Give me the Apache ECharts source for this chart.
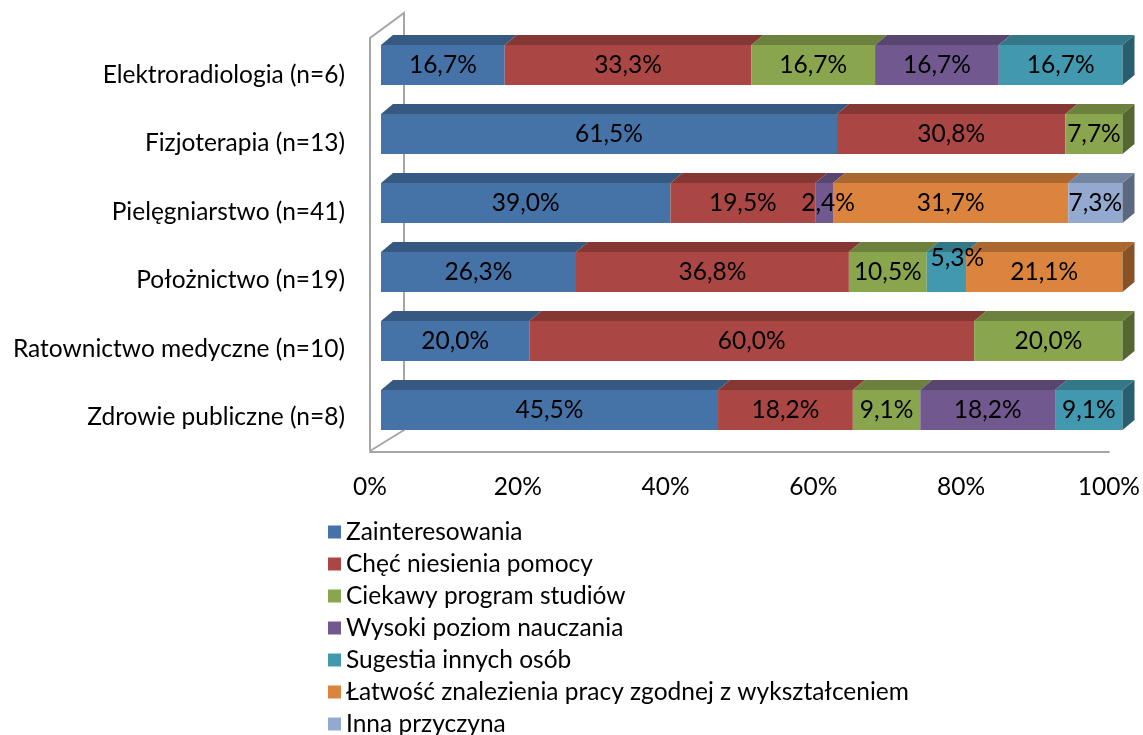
<!DOCTYPE html>
<html>
<head>
<meta charset="utf-8">
<script src="https://cdn.jsdelivr.net/npm/echarts@6/dist/echarts.min.js"></script>
<style>
  html, body { margin: 0; padding: 0; background: #fff; }
  #chart { width: 1143px; height: 735px; }
</style>
</head>
<body>
<div id="chart"></div>
<script>
const categories = [
  'Elektroradiologia (n=6)',
  'Fizjoterapia (n=13)',
  'Pielęgniarstwo (n=41)',
  'Położnictwo (n=19)',
  'Ratownictwo medyczne (n=10)',
  'Zdrowie publiczne (n=8)'
]
const seriesNames = [
  'Zainteresowania',
  'Chęć niesienia pomocy',
  'Ciekawy program studiów',
  'Wysoki poziom nauczania',
  'Sugestia innych osób',
  'Łatwość znalezienia pracy zgodnej z wykształceniem',
  'Inna przyczyna'
]
const zainteresowania = [16.7, 61.5, 39.0, 26.3, 20.0, 45.5]
const checPomocy = [33.3, 30.8, 19.5, 36.8, 60.0, 18.2]
const ciekawyProgram = [16.7, 7.7, 0, 10.5, 20.0, 9.1]
const wysokiPoziom = [16.7, 0, 2.4, 0, 0, 18.2]
const sugestia = [16.7, 0, 0, 5.3, 0, 9.1]
const latwoscPracy = [0, 0, 31.7, 21.1, 0, 0]
const innaPrzyczyna = [0, 0, 7.3, 0, 0, 0]
const xTickLabels = ['0%', '20%', '40%', '60%', '80%', '100%']

const values = [zainteresowania, checPomocy, ciekawyProgram, wysokiPoziom, sugestia, latwoscPracy, innaPrzyczyna]
const colors = ['#4572A7', '#AA4643', '#89A54E', '#71588F', '#4198AF', '#DB843D', '#93A9CF']
const font = 'Lato'
const fs = 24.5

function shade(hex, k) {
  let n = parseInt(hex.slice(1), 16)
  let r = Math.round(((n >> 16) & 255) * k)
  let g = Math.round(((n >> 8) & 255) * k)
  let b = Math.round((n & 255) * k)
  return 'rgb(' + r + ',' + g + ',' + b + ')'
}

// row totals, so every bar fills exactly 100%
let totals = categories.map((c, i) => values.reduce((s, arr) => s + arr[i], 0))
let lastIdx = categories.map((c, i) => {
  let last = 0
  values.forEach((arr, s) => { if (arr[i] > 0) last = s })
  return last
})

// label nudges for the narrow segments, key = series-category (px)
const labelShift = { '4-3': [11, -14], '3-2': [4, 0] }

const DX = 12, DY = -10

function renderBar(params, api) {
  let cat = api.value(0)
  let start = api.value(1)
  let end = api.value(2)
  let s = api.value(3)
  let isLast = api.value(4)
  let shown = api.value(5)
  let p0 = api.coord([start, cat])
  let p1 = api.coord([end, cat])
  let h = api.size([0, 1])[1] * 0.58
  let x0 = p0[0], x1 = p1[0]
  let yt = p0[1] - h / 2, yb = p0[1] + h / 2
  let c = colors[s]
  let children = [
    {
      type: 'polygon',
      shape: { points: [[x0, yt], [x1, yt], [x1 + DX, yt + DY], [x0 + DX, yt + DY]] },
      style: { fill: shade(c, 0.78) }
    },
    {
      type: 'rect',
      shape: { x: x0, y: yt, width: x1 - x0, height: h },
      style: { fill: c }
    }
  ]
  if (isLast) {
    children.push({
      type: 'polygon',
      shape: { points: [[x1, yt], [x1 + DX, yt + DY], [x1 + DX, yb + DY], [x1, yb]] },
      style: { fill: shade(c, 0.62) }
    })
  }
  let sh = labelShift[s + '-' + cat] || [0, 0]
  children.push({
    type: 'text',
    style: {
      text: shown.toFixed(1).replace('.', ',') + '%',
      x: (x0 + x1) / 2 + sh[0],
      y: p0[1] + sh[1],
      align: 'center',
      verticalAlign: 'middle',
      fill: '#000',
      font: fs + 'px ' + font
    },
    z2: 10
  })
  return { type: 'group', children: children }
}

let series = seriesNames.map((name, s) => {
  let data = []
  categories.forEach((cat, i) => {
    let v = values[s][i]
    if (!v) return
    let before = 0
    for (let k = 0; k < s; k++) before += values[k][i]
    data.push([i, before / totals[i] * 100, (before + v) / totals[i] * 100, s, lastIdx[i] === s ? 1 : 0, v])
  })
  return {
    name: name,
    type: 'custom',
    xAxisIndex: 0,
    yAxisIndex: 0,
    renderItem: renderBar,
    encode: { x: [1, 2], y: 0 },
    itemStyle: { color: colors[s] },
    clip: false,
    z: 2,
    data: data
  }
})

let chart = echarts.init(document.getElementById('chart'))
chart.setOption({
  animation: false,
  color: colors,
  textStyle: { fontFamily: font },
  grid: [
    // bars
    { left: 381, right: 20.5, top: 30.5, bottom: 290.5 },
    // axis labels and floor line
    { left: 370, right: 30, top: 40.75, bottom: 283.25 }
  ],
  xAxis: [
    { gridIndex: 0, type: 'value', min: 0, max: 100, show: false },
    {
      gridIndex: 1,
      type: 'value',
      min: 0,
      max: 100,
      interval: 20,
      axisLine: { show: true, lineStyle: { color: '#a6a6a6', width: 2 } },
      axisTick: { show: false },
      splitLine: { show: false },
      axisLabel: {
        margin: 23,
        color: '#000',
        fontSize: fs,
        fontFamily: font,
        formatter: (v) => xTickLabels[Math.round(v / 20)]
      }
    }
  ],
  yAxis: [
    { gridIndex: 0, type: 'category', data: categories, inverse: true, show: false },
    {
      gridIndex: 1,
      type: 'category',
      data: categories,
      inverse: true,
      axisLine: { show: false },
      axisTick: { show: false },
      axisLabel: { margin: 25, color: '#000', fontSize: fs, fontFamily: font }
    }
  ],
  legend: {
    orient: 'vertical',
    left: 323,
    top: 514.5,
    height: 260,
    itemWidth: 13,
    itemHeight: 13,
    itemGap: 7,
    icon: 'rect',
    textStyle: { fontSize: fs, fontFamily: font, color: '#000' },
    data: seriesNames
  },
  graphic: [
    {
      type: 'polyline',
      z: 0,
      shape: { points: [[370, 451], [370, 38], [404, 13], [404, 430], [370, 451]] },
      style: { stroke: '#a6a6a6', lineWidth: 2, fill: null }
    }
  ],
  series: series
})
</script>
</body>
</html>
